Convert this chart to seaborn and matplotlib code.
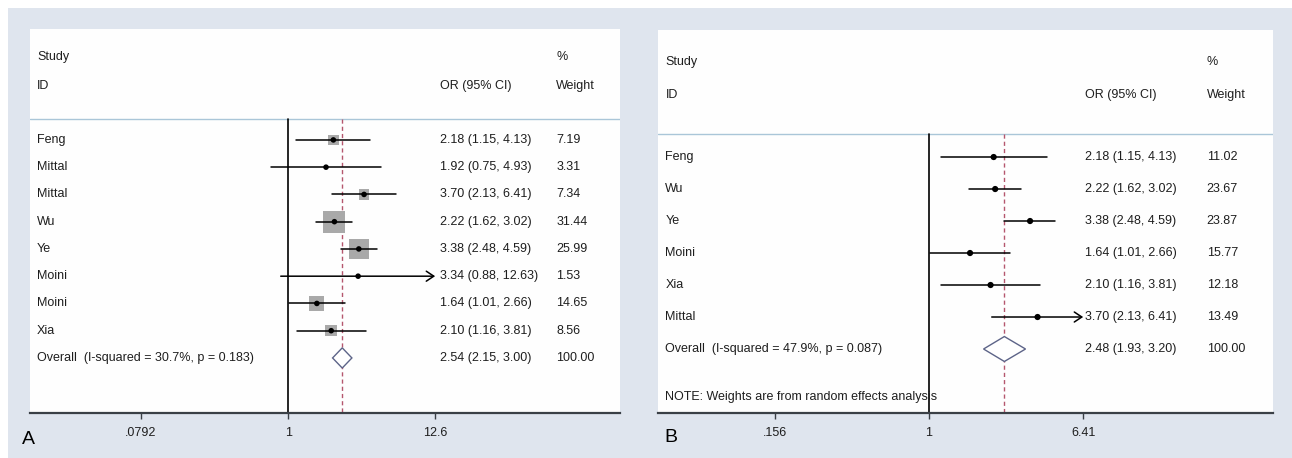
import matplotlib
matplotlib.use("Agg")
import matplotlib.pyplot as plt
import seaborn as sns
import pandas as pd
import numpy as np
from matplotlib.patches import Rectangle, Polygon
from matplotlib import font_manager

# ---- Panel A: all eight studies ----
studies_a = ["Feng", "Mittal", "Mittal", "Wu", "Ye", "Moini", "Moini", "Xia"]
or_a = [2.18, 1.92, 3.70, 2.22, 3.38, 3.34, 1.64, 2.10]
lo_a = [1.15, 0.75, 2.13, 1.62, 2.48, 0.88, 1.01, 1.16]
hi_a = [4.13, 4.93, 6.41, 3.02, 4.59, 12.63, 2.66, 3.81]
weight_a = [7.19, 3.31, 7.34, 31.44, 25.99, 1.53, 14.65, 8.56]
overall_a = [2.54, 2.15, 3.00]
overall_label_a = "Overall  (I-squared = 30.7%, p = 0.183)"
ticks_a = [0.0792, 1, 12.6]
ticklabels_a = [".0792", "1", "12.6"]

# ---- Panel B: six studies, random effects ----
studies_b = ["Feng", "Wu", "Ye", "Moini", "Xia", "Mittal"]
or_b = [2.18, 2.22, 3.38, 1.64, 2.10, 3.70]
lo_b = [1.15, 1.62, 2.48, 1.01, 1.16, 2.13]
hi_b = [4.13, 3.02, 4.59, 2.66, 3.81, 6.41]
weight_b = [11.02, 23.67, 23.87, 15.77, 12.18, 13.49]
overall_b = [2.48, 1.93, 3.20]
overall_label_b = "Overall  (I-squared = 47.9%, p = 0.087)"
ticks_b = [0.156, 1, 6.41]
ticklabels_b = [".156", "1", "6.41"]
note_b = "NOTE: Weights are from random effects analysis"

sns.set_style("white")


def pick_font(names):
    for n in names:
        try:
            font_manager.findfont(n, fallback_to_default=False)
            return n
        except Exception:
            continue
    return "DejaVu Sans"


regular = pick_font(["Liberation Sans", "Arial", "DejaVu Sans"])
plt.rcParams["font.family"] = [regular, "DejaVu Sans"]

W, H = 1292, 458
BG = "#dfe5ee"
PANEL = "#fefefe"
TXT = "#1e1e1e"
HEADER_LINE = "#aac6d8"
RED = "#b5566e"
DIAMOND = "#5d6488"
FS = 9.0
MIN_BOX_WEIGHT = 5.0  # boxes below this weight vanish under the point marker

fig = plt.figure(figsize=(W / 100, H / 100), dpi=100)
fig.patch.set_facecolor("white")
fig.patches.append(Rectangle((8 / W, 0), 1, 1 - 8 / H, transform=fig.transFigure,
                             facecolor=BG, edgecolor="none", zorder=-10))


def forest(ax, studies, ors, los, his, weights, overall, overall_label,
           ticks, ticklabels, xlim, ylim, header_y, head_rows, boxes,
           diamond_h, dot_size, note=None, note_y=None):
    n = len(studies)
    rows = np.arange(n)
    ax.set_facecolor(PANEL)
    ax.set_xscale("log")
    ax.set_xlim(*xlim)
    ax.set_ylim(*ylim)
    for s in ["top", "left", "right"]:
        ax.spines[s].set_visible(False)
    ax.spines["bottom"].set_color("#3a4046")
    ax.spines["bottom"].set_linewidth(1.6)
    ax.set_xticks(ticks)
    ax.set_xticklabels(ticklabels)
    ax.minorticks_off()
    ax.tick_params(axis="x", direction="out", length=4, width=1, color="#3a4046",
                   labelsize=FS, labelcolor=TXT, pad=6, bottom=True)
    ax.set_yticks([])

    tr = ax.get_yaxis_transform()  # x in axes fraction, y in data
    ax.axhline(header_y, color=HEADER_LINE, lw=1.0, zorder=1)

    x_id, x_or, x_w = 0.012, 0.695, 0.892
    ax.text(x_id, head_rows[0], "Study", transform=tr, fontsize=FS, color=TXT, va="center")
    ax.text(x_id, head_rows[1], "ID", transform=tr, fontsize=FS, color=TXT, va="center")
    ax.text(x_or, head_rows[1], "OR (95% CI)", transform=tr, fontsize=FS, color=TXT, va="center")
    ax.text(x_w, head_rows[0], "%", transform=tr, fontsize=FS, color=TXT, va="center")
    ax.text(x_w, head_rows[1], "Weight", transform=tr, fontsize=FS, color=TXT, va="center")

    bottom = ylim[0]
    # null line and pooled estimate line
    ax.plot([1, 1], [header_y, bottom], color="black", lw=1.2, zorder=2, clip_on=False)
    ax.plot([overall[0], overall[0]], [header_y, bottom], color=RED, lw=1.0,
            ls=(0, (3, 2.2)), zorder=2)

    xmax_tick = max(ticks)
    df = pd.DataFrame({"row": rows, "or": ors, "lo": los, "hi": his, "w": weights})

    if boxes:
        big = df[df["w"] >= MIN_BOX_WEIGHT]
        wmin, wmax = big["w"].min(), big["w"].max()
        sns.scatterplot(data=big, x="or", y="row", size="w", sizes=(8.0 * wmin, 8.0 * wmax),
                        size_norm=(wmin, wmax), marker="s", color="#a9a9a9",
                        edgecolor="none", linewidth=0, legend=False, ax=ax, zorder=3)

    for i in range(n):
        lo, hi = los[i], his[i]
        if hi >= xmax_tick:
            ax.annotate("", xy=(xmax_tick, i), xytext=(lo, i),
                        arrowprops=dict(arrowstyle="->,head_length=0.45,head_width=0.3",
                                        lw=1.1, color="black", shrinkA=0, shrinkB=0,
                                        mutation_scale=12), zorder=4)
        else:
            ax.plot([lo, hi], [i, i], color="black", lw=1.1, zorder=4)
        ax.text(0.012, i, studies[i], transform=tr, fontsize=FS, color=TXT, va="center")
        ax.text(x_or, i, f"{ors[i]:.2f} ({lo:.2f}, {hi:.2f})", transform=tr,
                fontsize=FS, color=TXT, va="center")
        ax.text(x_w, i, f"{weights[i]:.2f}", transform=tr, fontsize=FS, color=TXT, va="center")

    sns.scatterplot(data=df, x="or", y="row", s=dot_size, color="black",
                    edgecolor="none", legend=False, ax=ax, zorder=5)

    oy = n
    ov, olo, ohi = overall
    ax.add_patch(Polygon([(olo, oy), (ov, oy - diamond_h), (ohi, oy), (ov, oy + diamond_h)],
                         closed=True, facecolor="white", edgecolor=DIAMOND, lw=1.0, zorder=6))
    ax.text(0.012, oy, overall_label, transform=tr, fontsize=FS, color=TXT, va="center")
    ax.text(x_or, oy, f"{ov:.2f} ({olo:.2f}, {ohi:.2f})", transform=tr,
            fontsize=FS, color=TXT, va="center")
    ax.text(x_w, oy, "100.00", transform=tr, fontsize=FS, color=TXT, va="center")
    if note:
        ax.text(0.012, note_y, note, transform=tr, fontsize=FS, color=TXT, va="center")
    ax.set_xlabel("")
    ax.set_ylabel("")


ax_a = fig.add_axes([30 / W, 45 / H, 590 / W, 384 / H])
forest(ax_a, studies_a, or_a, lo_a, hi_a, weight_a, overall_a, overall_label_a,
       ticks_a, ticklabels_a, xlim=(np.exp(-4.45), np.exp(5.72)), ylim=(10.02, -4.07),
       header_y=-0.77, head_rows=(-3.05, -1.98), boxes=True, diamond_h=0.37, dot_size=16)

ax_b = fig.add_axes([658 / W, 45 / H, 615 / W, 383 / H])
forest(ax_b, studies_b, or_b, lo_b, hi_b, weight_b, overall_b, overall_label_b,
       ticks_b, ticklabels_b, xlim=(np.exp(-3.265), np.exp(4.145)), ylim=(8.0, -3.97),
       header_y=-0.72, head_rows=(-2.97, -1.94), boxes=False, diamond_h=0.39, dot_size=20,
       note=note_b, note_y=7.5)

fig.text(28 / W, 1 - 439 / H, "A", fontsize=14, color="black", ha="center", va="center",
         family=regular)
fig.text(671 / W, 1 - 437 / H, "B", fontsize=14, color="black", ha="center", va="center",
         family=regular)

fig.savefig("out.png", dpi=100, facecolor=fig.get_facecolor())
